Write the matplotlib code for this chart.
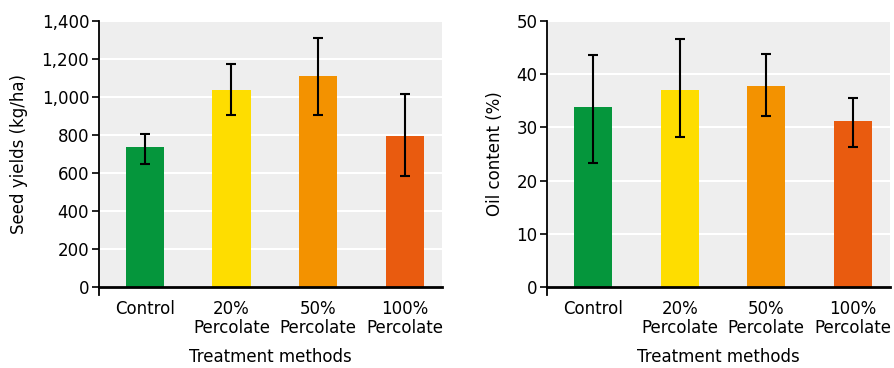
import matplotlib.pyplot as plt
import numpy as np

# Datos
categories = ["Control", "20%\nPercolate", "50%\nPercolate", "100%\nPercolate"]
colors = ["#05963c", "#fedd00", "#f39200", "#e95b0f"]

seed_yield = [737, 1036, 1109, 794]
seed_err_low = [90, 131, 204, 208]
seed_err_high = [68, 138, 200, 221]

oil_content = [33.8, 37.0, 37.8, 31.2]
oil_err_low = [10.5, 8.8, 5.7, 4.9]
oil_err_high = [9.8, 9.6, 6.0, 4.3]

fig = plt.figure(figsize=(8.94, 3.68), dpi=100)
plt.rcParams['font.family'] = ['DejaVu Sans']
plt.rcParams['font.size'] = 12

ax1 = fig.add_axes([0.1107, 0.2193, 0.3837, 0.7245])
ax2 = fig.add_axes([0.6122, 0.2193, 0.3833, 0.7245])


def draw_panel(ax, values, err_low, err_high, ylim, yticks, ylabel, fmt, ypad):
    x = np.arange(len(categories))
    ax.set_facecolor("#eeeeee")
    ax.set_axisbelow(True)
    ax.grid(axis='y', color='white', linewidth=1.5)
    ax.bar(x, values, width=0.44, color=colors, zorder=2)
    ax.errorbar(x, values, yerr=[err_low, err_high], fmt='none', ecolor='black',
                elinewidth=1.5, capsize=3.5, capthick=1.5, zorder=3)
    ax.set_xlim(-0.53, 3.43)
    ax.set_ylim(*ylim)
    ax.set_yticks(yticks)
    ax.set_yticklabels([fmt(v) for v in yticks])
    ax.set_xticks(x)
    ax.set_xticklabels(categories, va='top', linespacing=1.1)
    ax.tick_params(axis='x', length=0, pad=9)
    ax.tick_params(axis='y', length=5, width=1.2, pad=2)
    for side in ['top', 'right']:
        ax.spines[side].set_visible(False)
    ax.spines['left'].set_linewidth(1.3)
    ax.spines['bottom'].set_linewidth(2)
    # pequeña prolongación del eje vertical bajo el eje x
    ax.plot([0, 0], [0, -0.03], transform=ax.transAxes, color='black',
            linewidth=1.3, clip_on=False)
    ax.set_ylabel(ylabel, labelpad=ypad)
    ax.set_xlabel("Treatment methods", labelpad=8)


draw_panel(ax1, seed_yield, seed_err_low, seed_err_high, (0, 1400),
           list(range(0, 1401, 200)), "Seed yields (kg/ha)", lambda v: f"{v:,}", 10)
draw_panel(ax2, oil_content, oil_err_low, oil_err_high, (0, 50),
           list(range(0, 51, 10)), "Oil content (%)", lambda v: f"{v}", 9)

fig.savefig("out.png", dpi=100)
